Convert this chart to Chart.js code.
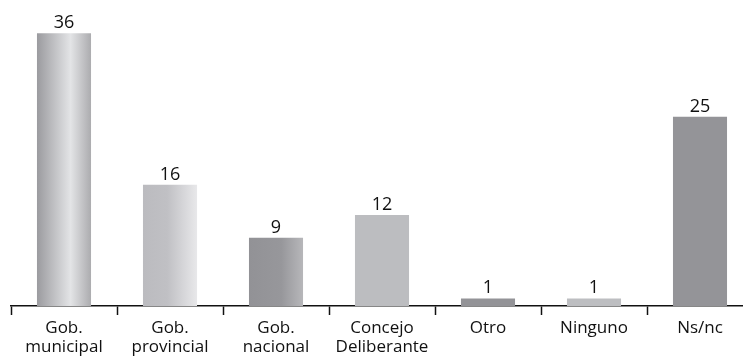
<!DOCTYPE html>
<html>
<head>
<meta charset="utf-8">
<script src="https://cdn.jsdelivr.net/npm/chart.js@4/dist/chart.umd.min.js"></script>
<style>
  html, body { margin: 0; padding: 0; background: #fff; overflow: hidden; }
  #wrap { width: 754px; height: 356px; }
</style>
</head>
<body>
<div id="wrap"><canvas id="chart" width="754" height="356"></canvas></div>
<script>
const categories = [
  ['Gob.', 'municipal'],
  ['Gob.', 'provincial'],
  ['Gob.', 'nacional'],
  ['Concejo', 'Deliberante'],
  'Otro',
  'Ninguno',
  'Ns/nc'
];
const values = [36, 16, 9, 12, 1, 1, 25];

// color stops across the width of each bar (left -> right)
const barStops = [
  [[0, '#9b9b9f'], [0.62, '#e3e4e6'], [1, '#acacaf']],
  [[0, '#bbbbbf'], [0.45, '#c0c0c4'], [1, '#e8e8ea']],
  [[0, '#929296'], [0.6, '#97979b'], [1, '#b7b7ba']],
  [[0, '#bcbdc0'], [1, '#bcbdc0']],
  [[0, '#939397'], [1, '#939397']],
  [[0, '#bdbec1'], [1, '#bdbec1']],
  [[0, '#949498'], [1, '#949498']]
];

const barPct = 0.51;
const fontFamily = '"Open Sans", "DejaVu Sans", sans-serif';

function barFill(context) {
  const i = context.dataIndex;
  const stops = barStops[i];
  const chart = context.chart;
  const xs = chart.scales && chart.scales.x;
  if (!chart.chartArea || !xs) return stops[0][1];
  const cx = xs.getPixelForValue(i);
  const w = (xs.width / categories.length) * barPct;
  const g = chart.ctx.createLinearGradient(cx - w / 2, 0, cx + w / 2, 0);
  stops.forEach(s => g.addColorStop(s[0], s[1]));
  return g;
}

const valueLabels = {
  id: 'valueLabels',
  afterDatasetsDraw(chart) {
    const ctx = chart.ctx;
    const meta = chart.getDatasetMeta(0);
    ctx.save();
    ctx.fillStyle = '#111';
    ctx.font = '18px ' + fontFamily;
    ctx.textAlign = 'center';
    ctx.textBaseline = 'alphabetic';
    meta.data.forEach((bar, i) => {
      ctx.fillText(String(values[i]), bar.x, bar.y - 5);
    });
    ctx.restore();
  }
};

new Chart(document.getElementById('chart'), {
  type: 'bar',
  data: {
    labels: categories,
    datasets: [{
      data: values,
      backgroundColor: barFill,
      borderWidth: 0,
      categoryPercentage: 1,
      barPercentage: barPct
    }]
  },
  options: {
    responsive: false,
    animation: false,
    layout: { padding: { left: 11, right: 1, top: 3, bottom: 0 } },
    plugins: { legend: { display: false }, tooltip: { enabled: false } },
    scales: {
      x: {
        grid: {
          display: true,
          drawOnChartArea: false,
          drawTicks: true,
          tickLength: 9,
          tickWidth: 1.5,
          tickColor: '#111',
          offset: true
        },
        border: { display: true, color: '#111', width: 1.5 },
        ticks: {
          color: '#111',
          padding: 4,
          maxRotation: 0,
          autoSkip: false,
          font: { family: fontFamily, size: 17, lineHeight: 1.1 }
        },
        afterFit(scale) { scale.height = 50; }
      },
      y: {
        display: false,
        min: 0,
        max: 40
      }
    }
  },
  plugins: [valueLabels]
});
</script>
</body>
</html>
